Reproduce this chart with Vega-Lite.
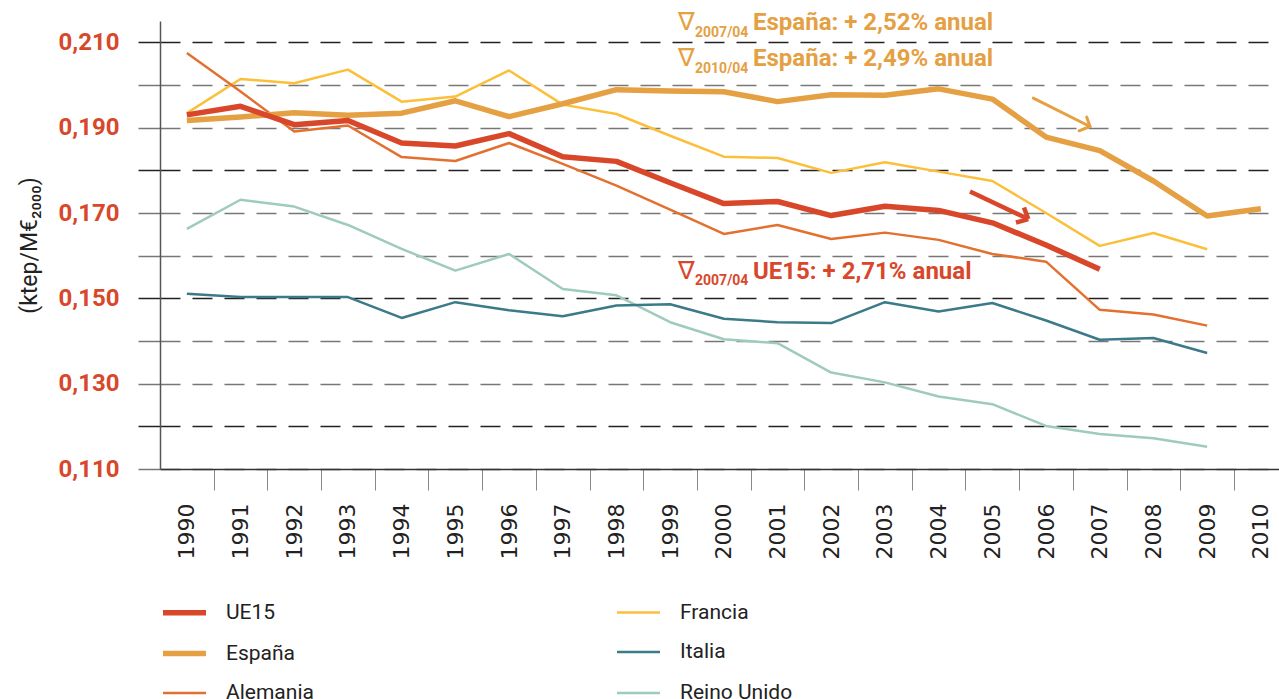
{
  "$schema": "https://vega.github.io/schema/vega-lite/v6.json",
  "width": 1119,
  "height": 448,
  "autosize": {"type": "none"},
  "padding": {"left": 160, "top": 21, "right": 0, "bottom": 230},
  "background": "white",
  "config": {"view": {"stroke": null}, "font": "Roboto"},
  "datasets": {
    "series": [
      {"serie": "Reino Unido", "year": 1990, "value": 0.1663},
      {"serie": "Reino Unido", "year": 1991, "value": 0.1731},
      {"serie": "Reino Unido", "year": 1992, "value": 0.1715},
      {"serie": "Reino Unido", "year": 1993, "value": 0.1672},
      {"serie": "Reino Unido", "year": 1994, "value": 0.1616},
      {"serie": "Reino Unido", "year": 1995, "value": 0.1565},
      {"serie": "Reino Unido", "year": 1996, "value": 0.1604},
      {"serie": "Reino Unido", "year": 1997, "value": 0.1522},
      {"serie": "Reino Unido", "year": 1998, "value": 0.1507},
      {"serie": "Reino Unido", "year": 1999, "value": 0.1444},
      {"serie": "Reino Unido", "year": 2000, "value": 0.1404},
      {"serie": "Reino Unido", "year": 2001, "value": 0.1395},
      {"serie": "Reino Unido", "year": 2002, "value": 0.1326},
      {"serie": "Reino Unido", "year": 2003, "value": 0.1303},
      {"serie": "Reino Unido", "year": 2004, "value": 0.1270},
      {"serie": "Reino Unido", "year": 2005, "value": 0.1252},
      {"serie": "Reino Unido", "year": 2006, "value": 0.1201},
      {"serie": "Reino Unido", "year": 2007, "value": 0.1182},
      {"serie": "Reino Unido", "year": 2008, "value": 0.1172},
      {"serie": "Reino Unido", "year": 2009, "value": 0.1152},
      {"serie": "Italia", "year": 1990, "value": 0.1511},
      {"serie": "Italia", "year": 1991, "value": 0.1503},
      {"serie": "Italia", "year": 1992, "value": 0.1503},
      {"serie": "Italia", "year": 1993, "value": 0.1503},
      {"serie": "Italia", "year": 1994, "value": 0.1454},
      {"serie": "Italia", "year": 1995, "value": 0.1491},
      {"serie": "Italia", "year": 1996, "value": 0.1472},
      {"serie": "Italia", "year": 1997, "value": 0.1458},
      {"serie": "Italia", "year": 1998, "value": 0.1483},
      {"serie": "Italia", "year": 1999, "value": 0.1486},
      {"serie": "Italia", "year": 2000, "value": 0.1452},
      {"serie": "Italia", "year": 2001, "value": 0.1444},
      {"serie": "Italia", "year": 2002, "value": 0.1442},
      {"serie": "Italia", "year": 2003, "value": 0.1491},
      {"serie": "Italia", "year": 2004, "value": 0.1469},
      {"serie": "Italia", "year": 2005, "value": 0.1489},
      {"serie": "Italia", "year": 2006, "value": 0.1448},
      {"serie": "Italia", "year": 2007, "value": 0.1403},
      {"serie": "Italia", "year": 2008, "value": 0.1407},
      {"serie": "Italia", "year": 2009, "value": 0.1372},
      {"serie": "Francia", "year": 1990, "value": 0.1934},
      {"serie": "Francia", "year": 1991, "value": 0.2014},
      {"serie": "Francia", "year": 1992, "value": 0.2004},
      {"serie": "Francia", "year": 1993, "value": 0.2036},
      {"serie": "Francia", "year": 1994, "value": 0.1961},
      {"serie": "Francia", "year": 1995, "value": 0.1973},
      {"serie": "Francia", "year": 1996, "value": 0.2034},
      {"serie": "Francia", "year": 1997, "value": 0.1954},
      {"serie": "Francia", "year": 1998, "value": 0.1932},
      {"serie": "Francia", "year": 1999, "value": 0.1881},
      {"serie": "Francia", "year": 2000, "value": 0.1832},
      {"serie": "Francia", "year": 2001, "value": 0.1829},
      {"serie": "Francia", "year": 2002, "value": 0.1794},
      {"serie": "Francia", "year": 2003, "value": 0.1819},
      {"serie": "Francia", "year": 2004, "value": 0.1797},
      {"serie": "Francia", "year": 2005, "value": 0.1775},
      {"serie": "Francia", "year": 2006, "value": 0.1700},
      {"serie": "Francia", "year": 2007, "value": 0.1623},
      {"serie": "Francia", "year": 2008, "value": 0.1653},
      {"serie": "Francia", "year": 2009, "value": 0.1615},
      {"serie": "Alemania", "year": 1990, "value": 0.2075},
      {"serie": "Alemania", "year": 1991, "value": 0.1985},
      {"serie": "Alemania", "year": 1992, "value": 0.1891},
      {"serie": "Alemania", "year": 1993, "value": 0.1905},
      {"serie": "Alemania", "year": 1994, "value": 0.1831},
      {"serie": "Alemania", "year": 1995, "value": 0.1822},
      {"serie": "Alemania", "year": 1996, "value": 0.1864},
      {"serie": "Alemania", "year": 1997, "value": 0.1815},
      {"serie": "Alemania", "year": 1998, "value": 0.1764},
      {"serie": "Alemania", "year": 1999, "value": 0.1708},
      {"serie": "Alemania", "year": 2000, "value": 0.1651},
      {"serie": "Alemania", "year": 2001, "value": 0.1672},
      {"serie": "Alemania", "year": 2002, "value": 0.1639},
      {"serie": "Alemania", "year": 2003, "value": 0.1654},
      {"serie": "Alemania", "year": 2004, "value": 0.1637},
      {"serie": "Alemania", "year": 2005, "value": 0.1604},
      {"serie": "Alemania", "year": 2006, "value": 0.1586},
      {"serie": "Alemania", "year": 2007, "value": 0.1473},
      {"serie": "Alemania", "year": 2008, "value": 0.1462},
      {"serie": "Alemania", "year": 2009, "value": 0.1436},
      {"serie": "España", "year": 1990, "value": 0.1917},
      {"serie": "España", "year": 1991, "value": 0.1925},
      {"serie": "España", "year": 1992, "value": 0.1935},
      {"serie": "España", "year": 1993, "value": 0.1929},
      {"serie": "España", "year": 1994, "value": 0.1934},
      {"serie": "España", "year": 1995, "value": 0.1963},
      {"serie": "España", "year": 1996, "value": 0.1926},
      {"serie": "España", "year": 1997, "value": 0.1956},
      {"serie": "España", "year": 1998, "value": 0.1989},
      {"serie": "España", "year": 1999, "value": 0.1986},
      {"serie": "España", "year": 2000, "value": 0.1984},
      {"serie": "España", "year": 2001, "value": 0.1961},
      {"serie": "España", "year": 2002, "value": 0.1977},
      {"serie": "España", "year": 2003, "value": 0.1976},
      {"serie": "España", "year": 2004, "value": 0.1991},
      {"serie": "España", "year": 2005, "value": 0.1967},
      {"serie": "España", "year": 2006, "value": 0.1878},
      {"serie": "España", "year": 2007, "value": 0.1846},
      {"serie": "España", "year": 2008, "value": 0.1775},
      {"serie": "España", "year": 2009, "value": 0.1693},
      {"serie": "España", "year": 2010, "value": 0.1710},
      {"serie": "UE15", "year": 1990, "value": 0.1930},
      {"serie": "UE15", "year": 1991, "value": 0.1950},
      {"serie": "UE15", "year": 1992, "value": 0.1907},
      {"serie": "UE15", "year": 1993, "value": 0.1917},
      {"serie": "UE15", "year": 1994, "value": 0.1864},
      {"serie": "UE15", "year": 1995, "value": 0.1857},
      {"serie": "UE15", "year": 1996, "value": 0.1886},
      {"serie": "UE15", "year": 1997, "value": 0.1832},
      {"serie": "UE15", "year": 1998, "value": 0.1821},
      {"serie": "UE15", "year": 1999, "value": 0.1771},
      {"serie": "UE15", "year": 2000, "value": 0.1722},
      {"serie": "UE15", "year": 2001, "value": 0.1727},
      {"serie": "UE15", "year": 2002, "value": 0.1694},
      {"serie": "UE15", "year": 2003, "value": 0.1716},
      {"serie": "UE15", "year": 2004, "value": 0.1706},
      {"serie": "UE15", "year": 2005, "value": 0.1677},
      {"serie": "UE15", "year": 2006, "value": 0.1625},
      {"serie": "UE15", "year": 2007, "value": 0.1568}
    ],
    "notas": [
      {"serie": "España", "tipo": "nabla", "year": 1999.146, "value": 0.212929, "texto": "∇"},
      {"serie": "España", "tipo": "nabla", "year": 1999.146, "value": 0.204494, "texto": "∇"},
      {"serie": "UE15", "tipo": "nabla", "year": 1999.146, "value": 0.154587, "texto": "∇"},
      {"serie": "España", "tipo": "sub", "year": 1999.463, "value": 0.211289, "texto": "2007/04"},
      {"serie": "España", "tipo": "sub", "year": 1999.463, "value": 0.202854, "texto": "2010/04"},
      {"serie": "UE15", "tipo": "sub", "year": 1999.463, "value": 0.153182, "texto": "2007/04"},
      {"serie": "España", "tipo": "main", "year": 2000.543, "value": 0.212929, "texto": "España: + 2,52% anual"},
      {"serie": "España", "tipo": "main", "year": 2000.543, "value": 0.204494, "texto": "España: + 2,49% anual"},
      {"serie": "UE15", "tipo": "main", "year": 2000.543, "value": 0.154587, "texto": "UE15: + 2,71% anual"}
    ],
    "flechas": [
      {"serie": "España", "x1": 2005.763, "y1": 0.196926, "x2": 2006.818, "y2": 0.190272},
      {"serie": "España", "x1": 2006.614, "y1": 0.189264, "x2": 2006.818, "y2": 0.190272},
      {"serie": "España", "x1": 2006.757, "y1": 0.192474, "x2": 2006.818, "y2": 0.190272},
      {"serie": "UE15", "x1": 2004.584, "y1": 0.175042, "x2": 2005.669, "y2": 0.168575},
      {"serie": "UE15", "x1": 2005.440, "y1": 0.167779, "x2": 2005.669, "y2": 0.168575},
      {"serie": "UE15", "x1": 2005.589, "y1": 0.171293, "x2": 2005.669, "y2": 0.168575}
    ]
  },
  "layer": [
    {
      "data": {"name": "series"},
      "mark": {"type": "line", "strokeJoin": "round"},
      "encoding": {
        "x": {
          "field": "year", "type": "quantitative",
          "scale": {"domain": [1989.5, 2010.338], "nice": false, "zero": false},
          "axis": {
            "title": null, "grid": false,
            "values": [1990,1991,1992,1993,1994,1995,1996,1997,1998,1999,2000,2001,2002,2003,2004,2005,2006,2007,2008,2009,2010],
            "format": "d",
            "tickOffset": 26.85, "labelOffset": -26.85,
            "tickSize": 21, "tickColor": "#888", "tickWidth": 1,
            "domainColor": "#333", "domainWidth": 1.5,
            "labelAngle": -90, "labelFont": "DejaVu Sans", "labelFontSize": 22,
            "labelColor": "#222", "labelPadding": 13, "labelFlush": false, "labelOverlap": false
          }
        },
        "y": {
          "field": "value", "type": "quantitative",
          "scale": {"domain": [0.11, 0.215], "nice": false, "zero": false},
          "axis": {
            "title": "(ktep/M€₂₀₀₀)",
            "titleFont": "Roboto", "titleFontSize": 23, "titleFontWeight": "normal", "titleColor": "#222",
            "titlePadding": 17,
            "values": [0.11,0.12,0.13,0.14,0.15,0.16,0.17,0.18,0.19,0.2,0.21],
            "labelExpr": "round(datum.value*1000) % 20 == 10 ? replace(format(datum.value, '.3f'), '.', ',') : ''",
            "labelFont": "Roboto", "labelFontSize": 24, "labelFontWeight": "bold", "labelColor": "#d9472b",
            "labelPadding": 19, "labelFlush": false, "labelOverlap": false,
            "tickSize": 22, "tickWidth": 1.5,
            "tickColor": {"condition": {"test": "round(datum.value*1000) % 30 == 0", "value": "#222"}, "value": "#777"},
            "grid": true, "gridDash": [20, 12], "gridWidth": 1.5,
            "gridColor": {"condition": {"test": "round(datum.value*1000) % 30 == 0", "value": "#222"}, "value": "#777"},
            "domainColor": "#555", "domainWidth": 1.5
          }
        },
        "color": {
          "field": "serie", "type": "nominal",
          "scale": {
            "domain": ["UE15", "España", "Alemania", "Francia", "Italia", "Reino Unido"],
            "range": ["#d9472b", "#e5a043", "#e4702f", "#fcbf3a", "#3b7a89", "#9fcbbb"]
          },
          "legend": {
            "orient": "none", "legendX": 0, "legendY": 567, "columns": 2, "title": null,
            "symbolType": "stroke", "symbolSize": 1849,
            "labelFont": "Roboto", "labelFontSize": 21, "labelColor": "#222",
            "labelOffset": 17, "columnPadding": 298, "rowPadding": 5
          }
        },
        "strokeWidth": {
          "field": "serie", "type": "nominal",
          "scale": {
            "type": "ordinal",
            "domain": ["UE15", "España", "Alemania", "Francia", "Italia", "Reino Unido"],
            "range": [5.5, 5.5, 2.5, 2.5, 2.5, 2.5]
          },
          "legend": {
            "orient": "none", "legendX": 0, "legendY": 567, "columns": 2, "title": null,
            "symbolType": "stroke", "symbolSize": 1849,
            "labelFont": "Roboto", "labelFontSize": 21, "labelColor": "#222",
            "labelOffset": 17, "columnPadding": 298, "rowPadding": 5
          }
        }
      }
    },
    {
      "data": {"name": "flechas"},
      "transform": [{"filter": "datum.serie == 'España'"}],
      "mark": {"type": "rule", "color": "#e5a043", "strokeWidth": 3, "strokeCap": "round"},
      "encoding": {
        "x": {"field": "x1", "type": "quantitative"},
        "y": {"field": "y1", "type": "quantitative"},
        "x2": {"field": "x2"},
        "y2": {"field": "y2"}
      }
    },
    {
      "data": {"name": "flechas"},
      "transform": [{"filter": "datum.serie == 'UE15'"}],
      "mark": {"type": "rule", "color": "#d9472b", "strokeWidth": 4.5, "strokeCap": "butt"},
      "encoding": {
        "x": {"field": "x1", "type": "quantitative"},
        "y": {"field": "y1", "type": "quantitative"},
        "x2": {"field": "x2"},
        "y2": {"field": "y2"}
      }
    },
    {
      "data": {"name": "notas"},
      "transform": [{"filter": "datum.serie == 'España' && datum.tipo == 'nabla'"}],
      "mark": {"type": "text", "color": "#e5a043", "font": "DejaVu Sans", "fontSize": 25, "align": "left", "baseline": "alphabetic"},
      "encoding": {"x": {"field": "year", "type": "quantitative"}, "y": {"field": "value", "type": "quantitative"}, "text": {"field": "texto"}}
    },
    {
      "data": {"name": "notas"},
      "transform": [{"filter": "datum.serie == 'UE15' && datum.tipo == 'nabla'"}],
      "mark": {"type": "text", "color": "#d9472b", "font": "DejaVu Sans", "fontSize": 25, "align": "left", "baseline": "alphabetic"},
      "encoding": {"x": {"field": "year", "type": "quantitative"}, "y": {"field": "value", "type": "quantitative"}, "text": {"field": "texto"}}
    },
    {
      "data": {"name": "notas"},
      "transform": [{"filter": "datum.serie == 'España' && datum.tipo == 'sub'"}],
      "mark": {"type": "text", "color": "#e5a043", "font": "Roboto", "fontSize": 14, "fontWeight": "bold", "align": "left", "baseline": "alphabetic"},
      "encoding": {"x": {"field": "year", "type": "quantitative"}, "y": {"field": "value", "type": "quantitative"}, "text": {"field": "texto"}}
    },
    {
      "data": {"name": "notas"},
      "transform": [{"filter": "datum.serie == 'UE15' && datum.tipo == 'sub'"}],
      "mark": {"type": "text", "color": "#d9472b", "font": "Roboto", "fontSize": 14, "fontWeight": "bold", "align": "left", "baseline": "alphabetic"},
      "encoding": {"x": {"field": "year", "type": "quantitative"}, "y": {"field": "value", "type": "quantitative"}, "text": {"field": "texto"}}
    },
    {
      "data": {"name": "notas"},
      "transform": [{"filter": "datum.serie == 'España' && datum.tipo == 'main'"}],
      "mark": {"type": "text", "color": "#e5a043", "font": "Roboto", "fontSize": 24, "fontWeight": "bold", "align": "left", "baseline": "alphabetic"},
      "encoding": {"x": {"field": "year", "type": "quantitative"}, "y": {"field": "value", "type": "quantitative"}, "text": {"field": "texto"}}
    },
    {
      "data": {"name": "notas"},
      "transform": [{"filter": "datum.serie == 'UE15' && datum.tipo == 'main'"}],
      "mark": {"type": "text", "color": "#d9472b", "font": "Roboto", "fontSize": 24, "fontWeight": "bold", "align": "left", "baseline": "alphabetic"},
      "encoding": {"x": {"field": "year", "type": "quantitative"}, "y": {"field": "value", "type": "quantitative"}, "text": {"field": "texto"}}
    }
  ]
}
